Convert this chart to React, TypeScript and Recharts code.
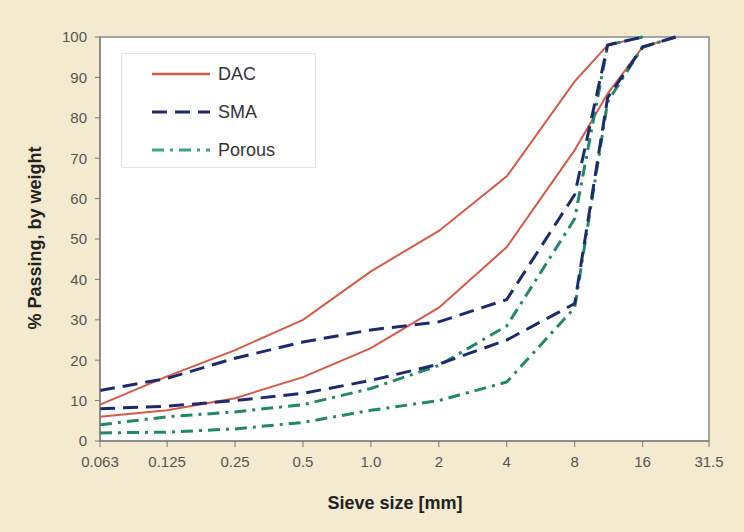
import { LineChart, Line, XAxis, YAxis, CartesianGrid, ReferenceArea } from "recharts";

// sieve sizes (mm) and % passing for each envelope line
const sieveSizes = [0.063, 0.125, 0.25, 0.5, 1.0, 2, 4, 8, 11.2, 16, 22.4];
const dacUpper = [9, 16, 22.5, 30, 42, 52, 65.5, 89, 98, 100, null];
const dacLower = [6, 7.6, 10.6, 15.8, 23, 33, 48, 72, 86, 97.5, 100];
const smaUpper = [12.5, 15.5, 20.5, 24.5, 27.5, 29.5, 35, 61, 98, 100, null];
const smaLower = [8, 8.6, 10, 11.8, 15, 19, 25, 34, 85, 97.5, 100];
const porousUpper = [4, 6, 7.2, 9, 13, 18.7, 28.5, 55, 98, 100, null];
const porousLower = [2, 2.2, 3, 4.6, 7.6, 10, 14.6, 33, 84, 97.5, 100];

const xTicks = [0.063, 0.125, 0.25, 0.5, 1.0, 2, 4, 8, 16, 31.5];
const yTicks = [0, 10, 20, 30, 40, 50, 60, 70, 80, 90, 100];

const RED = "#d65a48";
const BLUE = "#1e2a6e";
const GREEN = "#23876a";

const toSeries = (vals: (number | null)[]) =>
  sieveSizes.map((s, i) => ({ x: s, y: vals[i] })).filter((d) => d.y !== null);

const font = "'Liberation Sans', Arial, sans-serif";
const tick = { fontSize: 15, fill: "#555", fontFamily: font };

export default function App() {
  return (
    <div style={{ position: "absolute", left: 0, top: 0, width: 744, height: 532, background: "#f4ead0", fontFamily: font }}>
      <LineChart width={744} height={532} margin={{ top: 37, right: 35, left: 40, bottom: 51 }}>
        <CartesianGrid horizontal={false} vertical={false} fill="#fff" />
        <ReferenceArea x1={0.063} x2={31.5} y1={0} y2={100} fill="none" stroke="#8a8a8a" strokeWidth={1.5} ifOverflow="visible" />
        <XAxis
          dataKey="x" type="number" scale="log" domain={[0.063, 31.5]} ticks={xTicks}
          allowDuplicatedCategory={false} height={40} stroke="#777" tickSize={6} tickMargin={9} tick={tick}
          tickFormatter={(v: number) => (v === 1 ? "1.0" : String(v))}
        />
        <YAxis
          type="number" domain={[0, 100]} ticks={yTicks} width={60}
          stroke="#777" tickSize={5} tickMargin={8} tick={tick}
        />
        <Line data={toSeries(dacUpper)} dataKey="y" stroke={RED} strokeWidth={2} dot={false} isAnimationActive={false} />
        <Line data={toSeries(dacLower)} dataKey="y" stroke={RED} strokeWidth={2} dot={false} isAnimationActive={false} />
        <Line data={toSeries(porousUpper)} dataKey="y" stroke={GREEN} strokeWidth={3} strokeDasharray="12 6 3 6" dot={false} isAnimationActive={false} />
        <Line data={toSeries(porousLower)} dataKey="y" stroke={GREEN} strokeWidth={3} strokeDasharray="12 6 3 6" dot={false} isAnimationActive={false} />
        <Line data={toSeries(smaUpper)} dataKey="y" stroke={BLUE} strokeWidth={3} strokeDasharray="15 8" dot={false} isAnimationActive={false} />
        <Line data={toSeries(smaLower)} dataKey="y" stroke={BLUE} strokeWidth={3} strokeDasharray="15 8" dot={false} isAnimationActive={false} />
      </LineChart>

      {/* legend */}
      <div style={{ position: "absolute", left: 121, top: 53, width: 195, height: 115, background: "#fff", border: "1px solid #e4e4e4", boxSizing: "border-box" }}>
        {[
          { name: "DAC", color: RED, dash: "", w: 2.5 },
          { name: "SMA", color: BLUE, dash: "15 8", w: 3 },
          { name: "Porous", color: "#3aa58c", dash: "12 6 3 6", w: 3 },
        ].map((it, i) => (
          <div key={it.name} style={{ position: "absolute", left: 30, top: 8 + i * 38, height: 24, display: "flex", alignItems: "center" }}>
            <svg width={60} height={10}>
              <line x1={0} y1={5} x2={58} y2={5} stroke={it.color} strokeWidth={it.w} strokeDasharray={it.dash} />
            </svg>
            <span style={{ marginLeft: 6, fontSize: 18, color: "#333" }}>{it.name}</span>
          </div>
        ))}
      </div>

      <div style={{ position: "absolute", left: 395, top: 503, transform: "translate(-50%, -50%)", fontSize: 18, fontWeight: "bold", color: "#222", whiteSpace: "nowrap" }}>
        Sieve size [mm]
      </div>
      <div style={{ position: "absolute", left: 35, top: 238, transform: "translate(-50%, -50%) rotate(-90deg)", fontSize: 18, fontWeight: "bold", color: "#222", whiteSpace: "nowrap" }}>
        % Passing, by weight
      </div>
    </div>
  );
}
